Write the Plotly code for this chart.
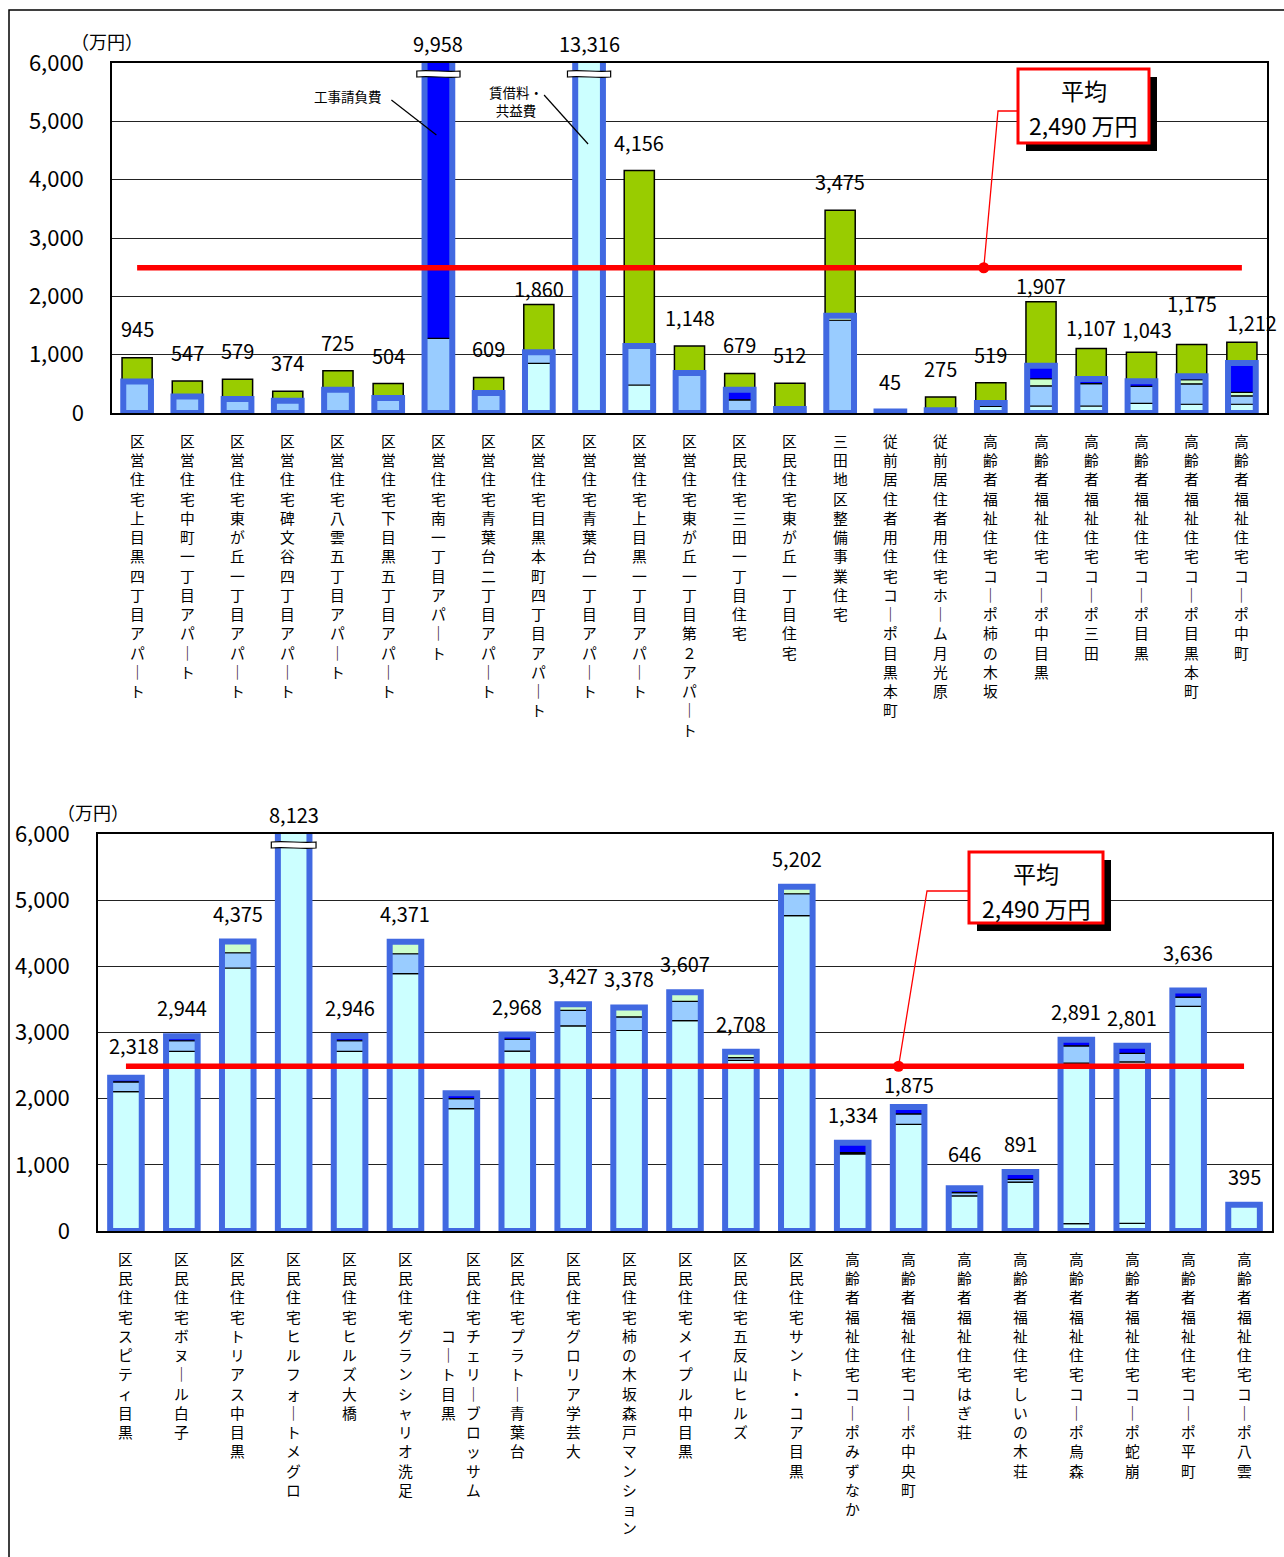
import plotly.graph_objects as go

W, H = 1284, 1557
FONT = "Noto Sans CJK JP, Noto Sans, sans-serif"

AVERAGE = 2490
Y_MAX = 6000
Y_TICKS = [0, 1000, 2000, 3000, 4000, 5000, 6000]

# ---------------- upper panel (23 facilities) ----------------
upper_names = [
    "区営住宅上目黒四丁目アパート", "区営住宅中町一丁目アパート", "区営住宅東が丘一丁目アパート",
    "区営住宅碑文谷四丁目アパート", "区営住宅八雲五丁目アパート", "区営住宅下目黒五丁目アパート",
    "区営住宅南一丁目アパート", "区営住宅青葉台二丁目アパート", "区営住宅目黒本町四丁目アパート",
    "区営住宅青葉台一丁目アパート", "区営住宅上目黒一丁目アパート", "区営住宅東が丘一丁目第２アパート",
    "区民住宅三田一丁目住宅", "区民住宅東が丘一丁目住宅", "三田地区整備事業住宅",
    "従前居住者用住宅コーポ目黒本町", "従前居住者用住宅ホーム月光原", "高齢者福祉住宅コーポ柿の木坂",
    "高齢者福祉住宅コーポ中目黒", "高齢者福祉住宅コーポ三田", "高齢者福祉住宅コーポ目黒",
    "高齢者福祉住宅コーポ目黒本町", "高齢者福祉住宅コーポ中町",
]
# 賃借料・共益費
upper_rent = [None, None, None, None, None, None, None, None, 850, 13316, 480, None,
              None, None, None, None, None, 115, 120, 120, 165, 150, 150]
upper_light = [540, 283, 240, 211, 400, 257, 1280, 343, 190, None, 670, 685,
               225, 70, 1590, 25, 45, 56, 345, 385, 290, 350, 145]
upper_pale = [None, None, None, None, None, None, None, None, None, None, None, None,
              None, None, 78, None, None, None, 122, None, None, 70, 60]
# 工事請負費
upper_works = [None, None, None, None, None, None, 8678, None, None, None, None, None,
               175, None, None, None, None, None, 224, 78, 88, 59, 502]
upper_green = [405, 264, 339, 163, 325, 247, None, 266, 820, None, 3006, 463,
               279, 442, 1807, 20, 230, 348, 1096, 524, 500, 546, 355]

# ---------------- lower panel (21 facilities) ----------------
lower_names = [
    "区民住宅スピティ目黒", "区民住宅ボヌール白子", "区民住宅トリアス中目黒",
    "区民住宅ヒルフォートメグロ", "区民住宅ヒルズ大橋", "区民住宅グランシャリオ洗足",
    "区民住宅チェリーブロッサム\nコート目黒", "区民住宅プラトー青葉台", "区民住宅グロリア学芸大",
    "区民住宅柿の木坂森戸マンション", "区民住宅メイプル中目黒", "区民住宅五反山ヒルズ",
    "区民住宅サント・コア目黒", "高齢者福祉住宅コーポみずなか", "高齢者福祉住宅コーポ中央町",
    "高齢者福祉住宅はぎ荘", "高齢者福祉住宅しいの木荘", "高齢者福祉住宅コーポ烏森",
    "高齢者福祉住宅コーポ蛇崩", "高齢者福祉住宅コーポ平町", "高齢者福祉住宅コーポ八雲",
]
lower_common = [None, None, None, None, None, None, None, None, None, None, None,
                None, None, None, None, None, None, 110, 115, None, None]
lower_rent = [2105, 2714, 3975, 8123, 2714, 3890, 1850, 2720, 3100, 3030, 3180,
              2580, 4765, 1165, 1610, 530, 740, 2428, 2440, 3395, 395]
lower_light = [150, 161, 230, None, 161, 300, 150, 175, 235, 205, 290,
               40, 332, 20, 160, 50, 40, 260, 130, 140, None]
lower_pale = [None, None, 170, None, None, 181, None, None, 92, 143, 137,
              88, 105, None, None, None, None, None, None, None, None]
lower_works = [63, 69, None, None, 71, None, 83, 73, None, None, None,
               None, None, 149, 105, 66, 111, 93, 116, 101, None]
lower_unlabelled = [6]

# colours
CYAN = "#CCFFFF"
LIGHT = "#99CCFF"
PALE = "#CCFFCC"
BLUE = "#0000FF"
GREEN = "#99CC00"
FRAME_BLUE = "#4169E1"
RED = "#FF0000"

# plot-area geometry in page pixels
UPPER_BOX = dict(left=112, right=1267, top=63, bottom=413)
LOWER_BOX = dict(left=98, right=1272, top=834, bottom=1231)

# value-label nudges in pixels (gap above bar top, horizontal offset)
upper_gap = {0: 13, 8: 0, 18: 0, 19: 4, 20: 6, 21: 24, 22: 3}
upper_dx = {20: 6, 22: 10}
lower_gap = {0: 16, 14: 6, 15: 18, 18: 12, 19: 21}
lower_dx = {0: 8}


def px(x):
    return x / W


def py(y):
    return 1 - y / H


def vertical(text):
    # long-vowel marks become vertical strokes in top-to-bottom writing
    return "<br>".join("｜" if c == "ー" else c for c in text)


fig = go.Figure()
shapes = []
annotations = []


def add_panel(names, inner, green, box, xa, ya, bar_w, gaps, dxs, unlabelled,
              dot_x, elbow, callout, break_half_w):
    n = len(names)
    xs = list(range(n))
    xref = xa.replace("axis", "")
    yref = ya.replace("axis", "")
    base = [0] * n
    for values, colour in inner:
        fig.add_trace(go.Bar(
            x=xs, y=values, base=list(base), width=bar_w, xaxis=xref, yaxis=yref,
            marker=dict(color=colour, line=dict(color="black", width=1.2)),
            hoverinfo="skip"))
        base = [b + (v or 0) for b, v in zip(base, values)]
    lower_total = list(base)
    if green is not None:
        fig.add_trace(go.Bar(
            x=xs, y=green, base=lower_total, width=0.6, xaxis=xref, yaxis=yref,
            marker=dict(color=GREEN, line=dict(color="black", width=1.5)),
            hoverinfo="skip"))
        totals = [b + (g or 0) for b, g in zip(lower_total, green)]
    else:
        totals = lower_total
    # thick frame around the non-green part of each bar
    fig.add_trace(go.Bar(
        x=xs, y=lower_total, base=[0] * n, width=bar_w, xaxis=xref, yaxis=yref,
        marker=dict(color="rgba(0,0,0,0)", line=dict(color=FRAME_BLUE, width=6)),
        hoverinfo="skip"))
    # average line and its anchor dot
    fig.add_trace(go.Scatter(
        x=[0, n - 1], y=[AVERAGE, AVERAGE], mode="lines", xaxis=xref, yaxis=yref,
        line=dict(color=RED, width=5.5), hoverinfo="skip"))
    fig.add_trace(go.Scatter(
        x=[dot_x], y=[AVERAGE], mode="markers", xaxis=xref, yaxis=yref,
        marker=dict(color=RED, size=11), hoverinfo="skip"))

    plot_h = box["bottom"] - box["top"]
    per_px = Y_MAX / plot_h
    cat_w = (box["right"] - box["left"]) / n

    # value labels
    for i, t in enumerate(totals):
        if i in unlabelled:
            continue
        clipped = t > Y_MAX
        annotations.append(dict(
            x=i, y=min(t, Y_MAX), xref=xref, yref=yref, text=f"{t:,}",
            showarrow=False, yanchor="bottom", xanchor="center",
            yshift=3 if clipped else gaps.get(i, 12), xshift=dxs.get(i, 0),
            font=dict(family=FONT, size=20, color="black")))
        if clipped:
            yc = Y_MAX - 11 * per_px
            hh = 3 * per_px
            d = 1.5 * per_px
            xl, xr = i - break_half_w, i + break_half_w
            x1, x2 = i - break_half_w / 3, i + break_half_w / 3
            path = (f"M{xl},{yc + hh} C{x1},{yc + hh + d} {x2},{yc + hh - d} {xr},{yc + hh} "
                    f"L{xr},{yc - hh} C{x2},{yc - hh - d} {x1},{yc - hh + d} {xl},{yc - hh} Z")
            shapes.append(dict(type="path", path=path, xref=xref, yref=yref,
                               fillcolor="white", line=dict(color="black", width=1.2)))

    # vertical category names below the axis
    size = 14.8
    pitch = size * 1.3
    for i, name in enumerate(names):
        cols = name.split("\n")
        offset = 12.5 / cat_w if len(cols) > 1 else 0
        for k, col in enumerate(cols):
            annotations.append(dict(
                x=i + offset * (1 if k == 0 else -1), xref=xref,
                y=py(box["bottom"]), yref="paper",
                yshift=-15 - (4 * pitch if k > 0 else 0),
                text=vertical(col), showarrow=False, xanchor="center", yanchor="top",
                align="center", font=dict(family=FONT, size=size, color="black")))

    # unit caption
    annotations.append(dict(
        x=px(box["left"] - 5), y=py(box["top"] - 22), xref="paper", yref="paper",
        text="（万円）", showarrow=False, xanchor="center", yanchor="middle",
        font=dict(family=FONT, size=18, color="black")))

    # average callout
    dot_px = box["left"] + (dot_x + 0.5) * cat_w
    dot_py = box["bottom"] - AVERAGE / per_px
    bl, bt, br, bb = callout
    shapes.append(dict(type="path", xref="paper", yref="paper",
                       path=f"M{px(dot_px)},{py(dot_py)} L{px(elbow[0])},{py(elbow[1])} "
                            f"L{px(bl)},{py(elbow[1])}",
                       line=dict(color=RED, width=1.3)))
    shapes.append(dict(type="rect", xref="paper", yref="paper",
                       x0=px(bl + 8), x1=px(br + 8), y0=py(bb + 8), y1=py(bt + 8),
                       fillcolor="black", line=dict(width=0)))
    shapes.append(dict(type="rect", xref="paper", yref="paper",
                       x0=px(bl), x1=px(br), y0=py(bb), y1=py(bt),
                       fillcolor="white", line=dict(color=RED, width=3)))
    cx = (bl + br) / 2
    annotations.append(dict(x=px(cx), y=py(bt + 21), xref="paper", yref="paper",
                            text="平均", showarrow=False, xanchor="center", yanchor="middle",
                            font=dict(family=FONT, size=23, color="black")))
    annotations.append(dict(x=px(cx), y=py(bt + 56), xref="paper", yref="paper",
                            text=f"{AVERAGE:,} 万円", showarrow=False, xanchor="center",
                            yanchor="middle",
                            font=dict(family=FONT, size=23, color="black")))

    axis_common = dict(showline=True, mirror=True, linecolor="black", linewidth=1.5,
                       automargin=False)
    fig.layout[xa] = dict(domain=[px(box["left"]), px(box["right"])],
                          range=[-0.5, n - 0.5], showticklabels=False, showgrid=False,
                          zeroline=False, anchor=yref, **axis_common)
    fig.layout[ya] = dict(domain=[py(box["bottom"]), py(box["top"])],
                          range=[0, Y_MAX], tickvals=Y_TICKS, tickformat=",d",
                          showgrid=True, gridcolor="#222222", gridwidth=1.3,
                          zeroline=False, anchor=xref, ticks="", ticklabelstandoff=22,
                          tickfont=dict(family=FONT, size=22, color="black"),
                          **axis_common)
    return per_px, cat_w


upper_per_px, upper_cat_w = add_panel(
    upper_names,
    [(upper_rent, CYAN), (upper_light, LIGHT), (upper_pale, PALE), (upper_works, BLUE)],
    upper_green, UPPER_BOX, "xaxis", "yaxis", 0.552, upper_gap, upper_dx, [],
    dot_x=16.86, elbow=(998, 111), callout=(1018, 69, 1149, 143), break_half_w=0.43)

add_panel(
    lower_names,
    [(lower_common, CYAN), (lower_rent, CYAN), (lower_light, LIGHT),
     (lower_pale, PALE), (lower_works, BLUE)],
    None, LOWER_BOX, "xaxis2", "yaxis2", 0.565, lower_gap, lower_dx, lower_unlabelled,
    dot_x=13.82, elbow=(927, 891), callout=(969, 852, 1103, 923), break_half_w=0.40)

# callouts naming the two large cost items in the upper panel
works_bar = upper_works.index(max(v or 0 for v in upper_works))
rent_bar = upper_rent.index(max(v or 0 for v in upper_rent))
u_top = UPPER_BOX["bottom"]


def upper_value(py_px):
    return (u_top - py_px) * upper_per_px


annotations.append(dict(x=works_bar - 90.5 / upper_cat_w, y=upper_value(96), xref="x", yref="y",
                        text="工事請負費", showarrow=False, xanchor="center", yanchor="middle",
                        font=dict(family=FONT, size=13.5, color="black")))
shapes.append(dict(type="line", xref="x", yref="y",
                   x0=works_bar - 47 / upper_cat_w, y0=upper_value(100),
                   x1=works_bar - 2 / upper_cat_w, y1=upper_value(135),
                   line=dict(color="black", width=1.2)))
annotations.append(dict(x=rent_bar - 73 / upper_cat_w, y=upper_value(101), xref="x", yref="y",
                        text="賃借料・<br>共益費", showarrow=False, xanchor="center",
                        yanchor="middle",
                        font=dict(family=FONT, size=13.5, color="black")))
shapes.append(dict(type="line", xref="x", yref="y",
                   x0=rent_bar - 45 / upper_cat_w, y0=upper_value(95),
                   x1=rent_bar - 1 / upper_cat_w, y1=upper_value(144),
                   line=dict(color="black", width=1.2)))

# page frame
shapes.append(dict(type="rect", xref="paper", yref="paper",
                   x0=px(9), x1=1.05, y0=-0.05, y1=py(10),
                   line=dict(color="black", width=1.5), fillcolor="rgba(0,0,0,0)"))

fig.update_layout(
    width=W, height=H, autosize=False,
    margin=dict(l=0, r=0, t=0, b=0, autoexpand=False),
    paper_bgcolor="white", plot_bgcolor="white",
    barmode="overlay", showlegend=False,
    shapes=shapes, annotations=annotations,
    font=dict(family=FONT, color="black"),
)

fig.write_html("out.html")
